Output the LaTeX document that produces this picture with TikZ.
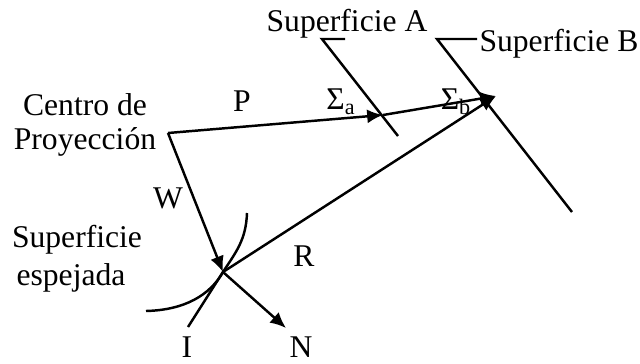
\documentclass[tikz,border=0pt]{standalone}
\usepackage{fontspec}
\setmainfont{Liberation Serif}
\usepackage{tikz}
\usetikzlibrary{
	positioning,
	arrows.meta
}
\tikzset{
	ray/.style={line width=1.4pt,-{Latex[length=9pt,width=8pt]}},
	trazo/.style={line width=1.4pt},
	rotulo/.style={inner sep=0pt,font=\fontsize{18pt}{20pt}\selectfont}
}

\begin{document}
\begin{tikzpicture}[x=.02cm,y=-.02cm]
				
				\useasboundingbox (0,0) rectangle (640,363);
				
				\coordinate (C) at (168,133);
				\coordinate (M) at (223,272);
				\coordinate (Sa) at (383,115);
				\coordinate (Sb) at (496,96);
				\coordinate (Nf) at (286,328);
				\coordinate (If) at (188,327);
				\coordinate (At) at (322,39);
				\coordinate (Ae) at (345,39);
				\coordinate (Ab) at (398,136);
				\coordinate (Bt) at (437,39);
				\coordinate (Be) at (477,39);
				\coordinate (Bb) at (572,212);
				\coordinate (Ci) at (146,311);
				\coordinate (Cs) at (247,213);
				
				\node[rotulo] (SA) at (347,24) {Superficie A};
				\node[rotulo] (SB) at (559,44) {Superficie B};
				\node[rotulo] (CP1) at (85,105) {Centro de};
				\node[rotulo] (CP2) at (85,142) {Proyección};
				\node[rotulo] (SE1) at (77,240) {Superficie};
				\node[rotulo] (SE2) at (71,278) {espejada};
				\node[rotulo] (P) at (242,101) {P};
				\node[rotulo] (W) at (168,198) {W};
				\node[rotulo] (R) at (304,256) {R};
				\node[rotulo] (I) at (187,347) {I};
				\node[rotulo] (N) at (301,347) {N};
				\node[rotulo] (Ea) at (341,102) {Σ\textsubscript{a}};
				\node[rotulo] (Eb) at (456,102) {Σ\textsubscript{b}};
				
				\draw[trazo] (Ae) -- (At) -- (Ab);
				\draw[trazo] (Be) -- (Bt) -- (Bb);
				\draw[ray] (C) -- (Sa);
				\draw[ray] (Sa) -- (Sb);
				\draw[ray] (C) -- (M);
				\draw[ray] (M) -- (Sb);
				\draw[ray] (M) -- (Nf);
				\draw[trazo] (If) -- (M);
				\draw[trazo] (Ci) .. controls (185,310) and (210,295) .. (M) .. controls (236,252) and (246,240) .. (Cs);
				
			\end{tikzpicture}
\end{document}
